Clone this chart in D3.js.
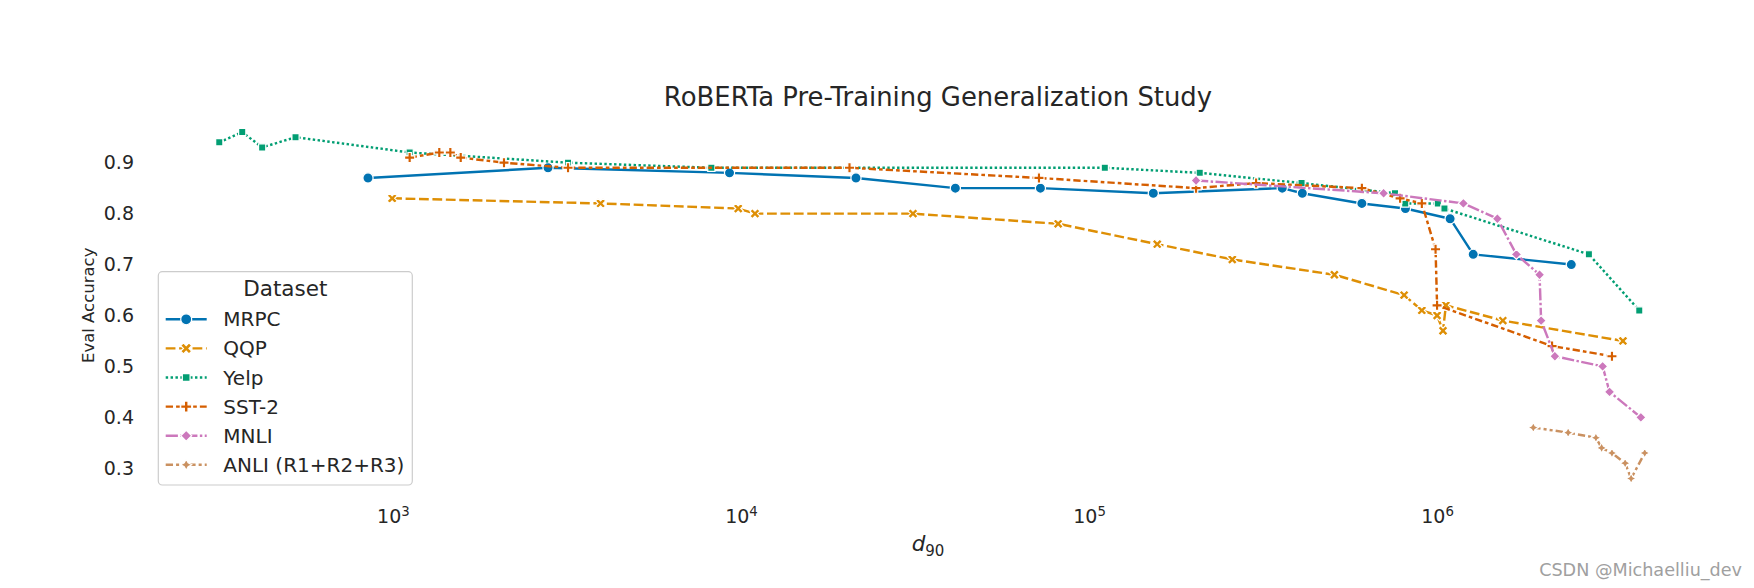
<!DOCTYPE html>
<html>
<head>
<meta charset="utf-8">
<script src="https://cdn.jsdelivr.net/npm/d3@7"></script>
<style>
  body { margin: 0; background: #ffffff; }
  svg text { font-family: "DejaVu Sans", sans-serif; fill: #262626; }
</style>
</head>
<body>
<svg id="chart" width="1754" height="588"></svg>
<script>
// ---------------- data ----------------
const datasets = ["MRPC", "QQP", "Yelp", "SST-2", "MNLI", "ANLI (R1+R2+R3)"];

const mrpcX = [848, 2790, 9270, 21400, 41300, 72500, 153000, 359000, 410000, 608000, 811000, 1.09e6, 1.27e6, 2.43e6];
const mrpcY = [0.87, 0.89, 0.88, 0.87, 0.85, 0.85, 0.84, 0.85, 0.84, 0.82, 0.81, 0.79, 0.72, 0.70];

const qqpX = [995, 3950, 9820, 10970, 31200, 81500, 157000, 258000, 507000, 804000, 904000, 1.0e6, 1.04e6, 1.06e6, 1.545e6, 3.42e6];
const qqpY = [0.83, 0.82, 0.81, 0.80, 0.80, 0.78, 0.74, 0.71, 0.68, 0.64, 0.61, 0.60, 0.57, 0.62, 0.59, 0.55];

const yelpX = [317, 369, 421, 525, 1117, 3185, 8220, 111000, 208000, 408000, 757000, 810000, 1.005e6, 1.05e6, 2.73e6, 3.81e6];
const yelpY = [0.94, 0.96, 0.93, 0.95, 0.92, 0.90, 0.89, 0.89, 0.88, 0.86, 0.84, 0.82, 0.82, 0.81, 0.72, 0.61];

const sst2X = [1117, 1359, 1462, 1566, 2085, 3185, 20500, 71800, 203000, 302000, 608000, 783000, 904000, 990000, 1.0e6, 2.14e6, 3.18e6];
const sst2Y = [0.91, 0.92, 0.92, 0.91, 0.90, 0.89, 0.89, 0.87, 0.85, 0.86, 0.85, 0.83, 0.82, 0.73, 0.62, 0.54, 0.52];

const mnliX = [203000, 702000, 1.19e6, 1.49e6, 1.69e6, 1.97e6, 1.99e6, 2.18e6, 2.99e6, 3.13e6, 3.85e6];
const mnliY = [0.865, 0.84, 0.82, 0.79, 0.72, 0.68, 0.59, 0.52, 0.50, 0.45, 0.40];

const anliX = [1.89e6, 2.38e6, 2.86e6, 2.97e6, 3.18e6, 3.47e6, 3.61e6, 3.95e6];
const anliY = [0.38, 0.37, 0.36, 0.34, 0.33, 0.31, 0.28, 0.33];

const xTickValues = [1e3, 1e4, 1e5, 1e6];
const xTickExponents = ["3", "4", "5", "6"];
const yTickValues = [0.3, 0.4, 0.5, 0.6, 0.7, 0.8, 0.9];
const yTickLabels = ["0.3", "0.4", "0.5", "0.6", "0.7", "0.8", "0.9"];

const titleText = "RoBERTa Pre-Training Generalization Study";
const yLabelText = "Eval Accuracy";
const legendTitle = "Dataset";

// ---------------- styles ----------------
const colors = ["#0173b2", "#de8f05", "#029e73", "#d55e00", "#cc78bc", "#ca9161"];
const LW = 2.44;
const dashUnits = [null, [4, 1.5], [1, 1], [3, 1.25, 1.5, 1.25], [5, 1, 1, 1], [3, 1.25, 1.25, 1.25, 1.25, 1.25]];
const markerKinds = ["circle", "X", "square", "P", "diamond", "star4"];
const MS = 10.2;

const seriesX = [mrpcX, qqpX, yelpX, sst2X, mnliX, anliX];
const seriesY = [mrpcY, qqpY, yelpY, sst2Y, mnliY, anliY];

// ---------------- layout ----------------
const plotLeft = 148, plotRight = 1716, plotTop = 114.8, plotBottom = 495.8;

const svg = d3.select("#chart");
svg.append("rect").attr("width", 1754).attr("height", 588).attr("fill", "#fff");

const logExt = d3.extent(seriesX.flat(), v => Math.log10(v));
const mx = 0.05 * (logExt[1] - logExt[0]);
const x = d3.scaleLog()
  .domain([Math.pow(10, logExt[0] - mx), Math.pow(10, logExt[1] + mx)])
  .range([plotLeft, plotRight]);

const yExt = d3.extent(seriesY.flat());
const my = 0.05 * (yExt[1] - yExt[0]);
const y = d3.scaleLinear().domain([yExt[0] - my, yExt[1] + my]).range([plotBottom, plotTop]);

// ---------------- marker shapes ----------------
function poly(pts, s) {
  return "M" + pts.map(p => (p[0] * s).toFixed(3) + "," + (p[1] * s).toFixed(3)).join("L") + "Z";
}
function markerPath(kind, s) {
  const r = s / 2;
  switch (kind) {
    case "circle":
      return `M${r},0A${r},${r} 0 1,1 ${-r},0A${r},${r} 0 1,1 ${r},0Z`;
    case "X":
      return poly([[-1,-2],[0,-1],[1,-2],[2,-1],[1,0],[2,1],[1,2],[0,1],[-1,2],[-2,1],[-1,0],[-2,-1]].map(p => [p[0]/4, p[1]/4]), s);
    case "square": {
      const h = r / Math.SQRT2;
      return `M${-h},${-h}L${h},${-h}L${h},${h}L${-h},${h}Z`;
    }
    case "P":
      return poly([[-1,-3],[1,-3],[1,-1],[3,-1],[3,1],[1,1],[1,3],[-1,3],[-1,1],[-3,1],[-3,-1],[-1,-1]].map(p => [p[0]/6, p[1]/6]), s);
    case "diamond":
      return `M0,${-r}L${r},0L0,${r}L${-r},0Z`;
    case "star4": {
      const pts = [];
      for (let i = 0; i < 8; i++) {
        const a = -Math.PI / 2 + i * Math.PI / 4;
        const rr = (i % 2 === 0) ? r : r * 0.5;
        pts.push([rr * Math.cos(a), rr * Math.sin(a)]);
      }
      return poly(pts, 1);
    }
  }
}

// ---------------- axes ----------------
const xAxis = d3.axisBottom(x).tickValues(xTickValues).tickSize(0).tickPadding(0).tickFormat(() => "");
const gx = svg.append("g").attr("transform", `translate(0,${plotBottom})`).call(xAxis);
gx.select(".domain").remove();
gx.selectAll(".tick text").each(function(d, i) {
  const t = d3.select(this);
  t.attr("dy", null).attr("y", 27.5).attr("font-size", 19).attr("font-family", "DejaVu Sans").attr("fill", "#262626");
  t.text(null);
  t.append("tspan").text("10");
  t.append("tspan").attr("font-size", 13.3).attr("dy", -7.6).text(xTickExponents[i]);
});

const yAxis = d3.axisLeft(y).tickValues(yTickValues).tickSize(0).tickPadding(14)
  .tickFormat((d, i) => yTickLabels[i]);
const gy = svg.append("g").attr("transform", `translate(${plotLeft},0)`).call(yAxis);
gy.select(".domain").remove();
gy.selectAll(".tick text").attr("font-size", 19).attr("font-family", "DejaVu Sans").attr("fill", "#262626");

// ---------------- series ----------------
const line = d3.line().x(d => x(d[0])).y(d => y(d[1]));
datasets.forEach((name, i) => {
  const pts = seriesX[i].map((v, k) => [v, seriesY[i][k]]).sort((a, b) => a[0] - b[0]);
  const g = svg.append("g");
  const p = g.append("path").datum(pts).attr("d", line)
    .attr("fill", "none").attr("stroke", colors[i]).attr("stroke-width", LW)
    .attr("stroke-linejoin", "round");
  if (dashUnits[i]) p.attr("stroke-dasharray", dashUnits[i].map(u => u * LW).join(","));
  g.selectAll("path.m").data(pts).enter().append("path").attr("class", "m")
    .attr("d", markerPath(markerKinds[i], MS))
    .attr("transform", d => `translate(${x(d[0])},${y(d[1])})`)
    .attr("fill", colors[i]).attr("stroke", "#fff").attr("stroke-width", 1.22);
});

// ---------------- title & labels ----------------
const cx = (plotLeft + plotRight) / 2;
svg.append("text").attr("x", cx + 6).attr("y", 106).attr("text-anchor", "middle")
  .attr("font-size", 25.9).text(titleText);

svg.append("text").attr("transform", `translate(94,${(plotTop + plotBottom) / 2})rotate(-90)`)
  .attr("text-anchor", "middle").attr("font-size", 16.5).text(yLabelText);

const xl = svg.append("text").attr("x", cx - 4).attr("y", 551).attr("text-anchor", "middle").attr("font-size", 21.5);
xl.append("tspan").attr("font-style", "italic").text("d");
xl.append("tspan").attr("font-size", 15).attr("dy", 4.5).text("90");

// ---------------- legend ----------------
const lgX = 158.3, lgY = 271.7, lgW = 254, lgH = 213.3;
const lg = svg.append("g");
lg.append("rect").attr("x", lgX).attr("y", lgY).attr("width", lgW).attr("height", lgH)
  .attr("rx", 4).attr("fill", "#fff").attr("fill-opacity", 0.8)
  .attr("stroke", "#cccccc").attr("stroke-width", 1.2);
lg.append("text").attr("x", lgX + lgW / 2).attr("y", lgY + 24.5).attr("text-anchor", "middle")
  .attr("font-size", 21.5).text(legendTitle);
datasets.forEach((name, i) => {
  const cy = lgY + 47.6 + i * 29.1;
  const h = lg.append("g");
  const l = h.append("line").attr("x1", lgX + 7.4).attr("x2", lgX + 48.4).attr("y1", cy).attr("y2", cy)
    .attr("stroke", colors[i]).attr("stroke-width", LW);
  if (dashUnits[i]) l.attr("stroke-dasharray", dashUnits[i].map(u => u * LW).join(","));
  h.append("path").attr("d", markerPath(markerKinds[i], 11))
    .attr("transform", `translate(${lgX + 27.9},${cy})`)
    .attr("fill", colors[i]).attr("stroke", "#fff").attr("stroke-width", 1.22);
  h.append("text").attr("x", lgX + 65).attr("y", cy + 7).attr("font-size", 20).text(name);
});

// watermark
svg.append("text").attr("x", 1742).attr("y", 576).attr("text-anchor", "end")
  .attr("font-size", 17.6).style("fill", "#a0a0a0").text("CSDN @Michaelliu_dev");
</script>
</body>
</html>
